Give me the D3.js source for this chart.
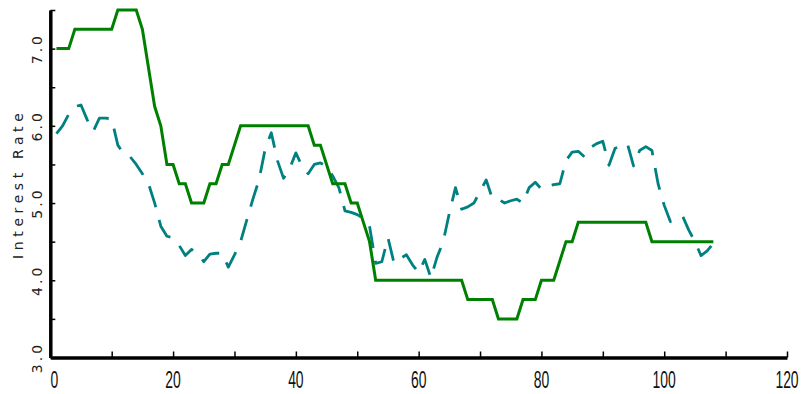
<!DOCTYPE html>
<html>
<head>
<meta charset="utf-8">
<script src="https://cdn.jsdelivr.net/npm/d3@7"></script>
<style>
    html, body { margin: 0; padding: 0; background: #fff; }
    svg { display: block; }
</style>
</head>
<body>
<svg id="chart"></svg>
<script>
// monthly rates, month 1..108
var primeRate = [7.0, 7.0, 7.0, 7.25, 7.25, 7.25, 7.25, 7.25, 7.25, 7.25,
    7.5, 7.5, 7.5, 7.5, 7.25, 6.75, 6.25, 6.0, 5.5, 5.5,
    5.25, 5.25, 5.0, 5.0, 5.0, 5.25, 5.25, 5.5, 5.5, 5.75,
    6.0, 6.0, 6.0, 6.0, 6.0, 6.0, 6.0, 6.0, 6.0, 6.0,
    6.0, 6.0, 5.75, 5.75, 5.5, 5.25, 5.25, 5.25, 5.0, 5.0,
    4.75, 4.5, 4.0, 4.0, 4.0, 4.0, 4.0, 4.0, 4.0, 4.0,
    4.0, 4.0, 4.0, 4.0, 4.0, 4.0, 4.0, 3.75, 3.75, 3.75,
    3.75, 3.75, 3.5, 3.5, 3.5, 3.5, 3.75, 3.75, 3.75, 4.0,
    4.0, 4.0, 4.25, 4.5, 4.5, 4.75, 4.75, 4.75, 4.75, 4.75,
    4.75, 4.75, 4.75, 4.75, 4.75, 4.75, 4.75, 4.5, 4.5, 4.5,
    4.5, 4.5, 4.5, 4.5, 4.5, 4.5, 4.5, 4.5];
var marketRate = [5.9, 6.0, 6.15, 6.25, 6.27, 6.08, 5.93, 6.1, 6.1, 6.09,
    5.75, 5.63, 5.6, 5.5, 5.38, 5.25, 5.0, 4.7, 4.57, 4.55,
    4.45, 4.32, 4.4, 4.35, 4.24, 4.34, 4.35, 4.35, 4.17, 4.33,
    4.5, 4.78, 5.05, 5.3, 5.7, 5.91, 5.55, 5.32, 5.45, 5.65,
    5.48, 5.38, 5.5, 5.52, 5.48, 5.35, 5.2, 4.9, 4.88, 4.85,
    4.8, 4.7, 4.22, 4.24, 4.55, 4.22, 4.28, 4.33, 4.2, 4.1,
    4.27, 4.03, 4.3, 4.5, 4.87, 5.2, 4.92, 4.95, 5.0, 5.15,
    5.3, 5.06, 5.05, 5.0, 5.03, 5.05, 5.0, 5.2, 5.27, 5.18,
    5.22, 5.24, 5.25, 5.55, 5.66, 5.67, 5.6, 5.72, 5.77, 5.8,
    5.49, 5.71, 5.74, 5.77, 5.48, 5.68, 5.73, 5.68, 5.25, 4.97,
    4.76, 4.8, 4.83, 4.65, 4.5, 4.32, 4.38, 4.48];
var xTickLabels = [0, 20, 40, 60, 80, 100, 120];
var yTickLabels = ["3.0", "4.0", "5.0", "6.0", "7.0"];
var yTitle = "Interest Rate";

var width = 804;
var height = 394;
var svg = d3.select("#chart")
    .attr("width", width)
    .attr("height", height);

var x = d3.scaleLinear().domain([0, 120]).range([50.3, 787]);
var y = d3.scaleLinear().domain([3, 7.5]).range([357.5, 10]);

draw_lines();
draw_axes();

function draw_lines() {
    var line = d3.line()
        .x(function (d, i) { return x(i + 1); })
        .y(function (d) { return y(d); });

    svg.append("path")
        .datum(marketRate)
        .attr("d", line)
        .attr("fill", "none")
        .attr("stroke", "#008080")
        .attr("stroke-width", 2.8)
        .attr("stroke-dasharray", "22,13")
        .attr("stroke-linejoin", "round");

    svg.append("path")
        .datum(primeRate)
        .attr("d", line)
        .attr("fill", "none")
        .attr("stroke", "#008000")
        .attr("stroke-width", 3)
        .attr("stroke-linejoin", "miter");
}

function draw_axes() {
    // x axis
    var xAxis = d3.axisTop(x)
        .tickValues(d3.range(0, 121, 10))
        .tickSize(6)
        .tickSizeOuter(0)
        .tickFormat("");
    var gx = svg.append("g")
        .attr("transform", "translate(0," + y(3) + ")")
        .call(xAxis);
    gx.select(".domain").attr("stroke", "#000").attr("stroke-width", 3.5);
    gx.selectAll(".tick line").attr("stroke", "#000").attr("stroke-width", 1.5);

    svg.append("g")
        .selectAll("text")
        .data(xTickLabels)
        .enter()
        .append("text")
        .attr("transform", function (d) {
            var px = d === 0 ? x(0) + 4 : x(d);
            return "translate(" + px + ",388) scale(0.58,1)";
        })
        .attr("text-anchor", "middle")
        .style("font-family", "'Liberation Sans', Arial, sans-serif")
        .style("font-size", "24px")
        .attr("fill", "#111")
        .text(function (d) { return d; });

    // y axis
    var yAxis = d3.axisRight(y)
        .tickValues(d3.range(3, 7.51, 0.5))
        .tickSize(5)
        .tickSizeOuter(0)
        .tickFormat("");
    var gy = svg.append("g")
        .attr("transform", "translate(" + x(0) + ",0)")
        .call(yAxis);
    gy.select(".domain").attr("stroke", "#000").attr("stroke-width", 3.5);
    gy.selectAll(".tick line").attr("stroke", "#000").attr("stroke-width", 1.5);

    svg.append("g")
        .selectAll("text")
        .data(yTickLabels)
        .enter()
        .append("text")
        .attr("transform", function (d) {
            return "translate(42," + y(+d) + ") rotate(-90)";
        })
        .attr("text-anchor", "middle")
        .style("font-family", "'DejaVu Sans', sans-serif")
        .style("font-size", "14px")
        .style("letter-spacing", "3px")
        .attr("fill", "#222")
        .text(function (d) { return d; });

    svg.append("text")
        .attr("transform", "translate(23," + ((y(3) + y(7.5)) / 2) + ") rotate(-90)")
        .attr("text-anchor", "middle")
        .style("font-family", "'DejaVu Sans', sans-serif")
        .style("font-size", "14px")
        .style("letter-spacing", "4.6px")
        .attr("fill", "#222")
        .text(yTitle);
}
</script>
</body>
</html>
